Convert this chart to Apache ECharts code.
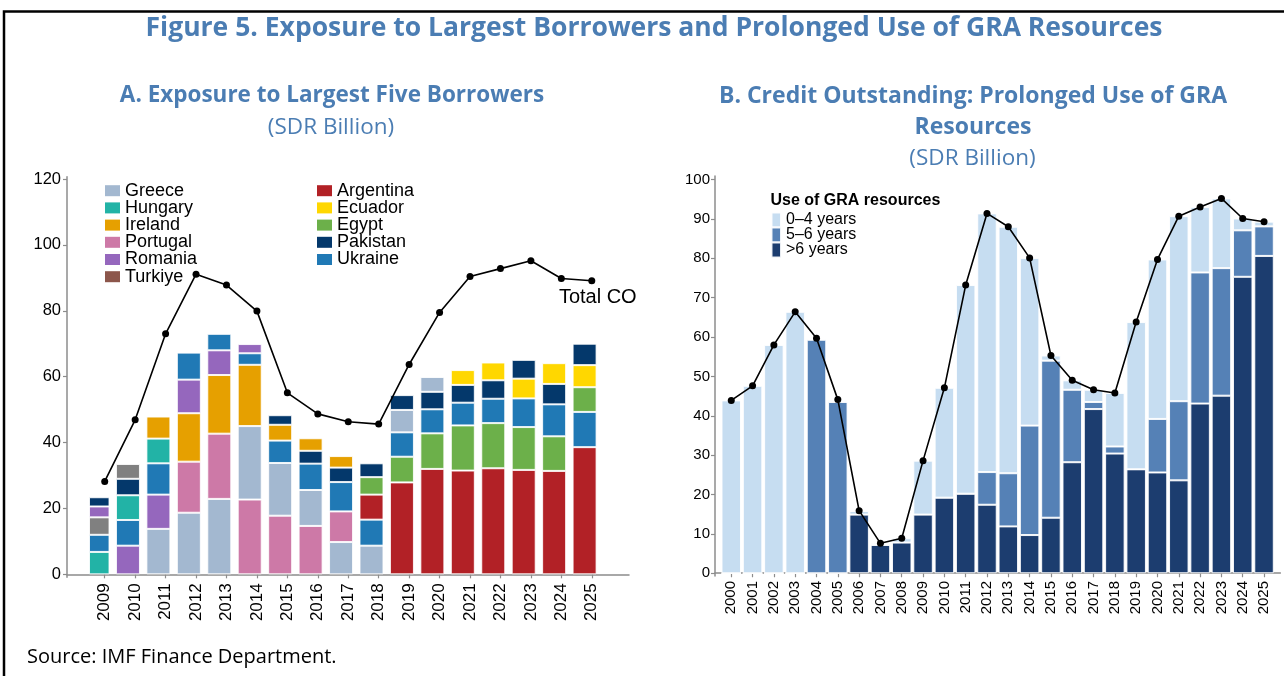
<!DOCTYPE html>
<html>
<head>
<meta charset="utf-8">
<script src="https://cdn.jsdelivr.net/npm/echarts@6/dist/echarts.min.js"></script>
<style>html,body{margin:0;padding:0;background:#fff;}#c{width:1284px;height:676px;}</style>
</head>
<body>
<div id="c"></div>
<script>
// ---------- Panel A data ----------
const yearsA = ['2009','2010','2011','2012','2013','2014','2015','2016','2017','2018','2019','2020','2021','2022','2023','2024','2025'];
// borrowers ranked by size within each year (rank 1 = largest, drawn at bottom)
const rank1Country = ['Hungary','Romania','Greece','Greece','Greece','Portugal','Portugal','Portugal','Greece','Greece','Argentina','Argentina','Argentina','Argentina','Argentina','Argentina','Argentina'];
const rank1Value   = [6.8, 8.7, 13.8, 18.7, 22.9, 22.7, 17.8, 14.7, 9.8, 8.7, 27.9, 32.0, 31.5, 32.2, 31.7, 31.4, 38.6];
const rank2Country = ['Ukraine','Ukraine','Romania','Portugal','Portugal','Greece','Greece','Greece','Portugal','Ukraine','Egypt','Egypt','Egypt','Egypt','Egypt','Egypt','Ukraine'];
const rank2Value   = [5.2, 7.8, 10.4, 15.5, 19.8, 22.3, 16.0, 10.9, 9.3, 7.9, 7.8, 10.8, 13.7, 13.7, 13.0, 10.5, 10.7];
const rank3Country = ['Turkiye','Hungary','Ukraine','Ireland','Ireland','Ireland','Ukraine','Ukraine','Ukraine','Argentina','Ukraine','Ukraine','Ukraine','Ukraine','Ukraine','Ukraine','Egypt'];
const rank3Value   = [5.3, 7.5, 9.5, 14.7, 17.8, 18.6, 6.8, 8.0, 8.9, 7.6, 7.4, 7.3, 6.9, 7.4, 8.7, 9.7, 7.5];
const rank4Country = ['Romania','Pakistan','Hungary','Romania','Romania','Ukraine','Ireland','Pakistan','Pakistan','Egypt','Greece','Pakistan','Pakistan','Pakistan','Ecuador','Pakistan','Ecuador'];
const rank4Value   = [3.3, 5.0, 7.5, 10.2, 7.5, 3.5, 4.8, 3.9, 4.4, 5.3, 6.8, 5.3, 5.4, 5.6, 6.0, 6.2, 6.7];
const rank5Country = ['Pakistan','Turkiye','Ireland','Ukraine','Ukraine','Romania','Pakistan','Ireland','Ireland','Pakistan','Pakistan','Greece','Ecuador','Ecuador','Pakistan','Ecuador','Pakistan'];
const rank5Value   = [2.8, 4.5, 6.7, 8.2, 5.0, 2.8, 2.9, 3.8, 3.5, 4.2, 4.5, 4.5, 4.5, 5.4, 5.7, 6.3, 6.5];
const totalCOA     = [28.2, 46.9, 73.0, 91.1, 87.8, 79.9, 55.1, 48.7, 46.3, 45.6, 63.7, 79.5, 90.4, 92.8, 95.2, 89.8, 89.1];
const legendColA1 = ['Greece','Hungary','Ireland','Portugal','Romania','Turkiye'];
const legendColA2 = ['Argentina','Ecuador','Egypt','Pakistan','Ukraine'];
const yTicksA = [0,20,40,60,80,100,120];

// ---------- Panel B data ----------
const yearsB = ['2000','2001','2002','2003','2004','2005','2006','2007','2008','2009','2010','2011','2012','2013','2014','2015','2016','2017','2018','2019','2020','2021','2022','2023','2024','2025'];
const over6   = [0,0,0,0,0,0,14.9,7.2,7.8,14.9,19.2,20.2,17.4,11.9,9.7,14.1,28.2,41.7,30.4,26.4,25.6,23.6,43.1,45.1,75.3,80.6];
const y5to6   = [0,0,0,0,59.3,43.5,0,0,0,0,0,0,8.3,13.5,27.8,39.9,18.4,1.8,1.8,0,13.6,20.1,33.3,32.4,11.8,7.5];
const y0to4   = [43.9,47.6,58.0,66.4,0.3,0.5,0.9,0.4,1.1,13.7,27.9,53.0,65.7,62.6,42.6,1.3,2.4,3.1,13.6,37.4,40.5,47.0,16.6,17.7,3.0,1.2];
const totalCOB = [43.9,47.6,58.0,66.4,59.7,44.1,15.9,7.6,8.9,28.6,47.1,73.2,91.4,88.0,80.1,55.3,49.0,46.6,45.8,63.8,79.7,90.7,93.0,95.2,90.1,89.3];
const seriesNamesB = ['0–4 years','5–6 years','>6 years'];
const yTicksB = [0,10,20,30,40,50,60,70,80,90,100];

// ---------- styles ----------
const barColor = {Greece:'#a3b8d0',Hungary:'#22b3a6',Ireland:'#e6a000',Portugal:'#cd79a7',Romania:'#9567bd',Turkiye:'#808080',
  Argentina:'#b22126',Ecuador:'#ffd700',Egypt:'#6cb04a',Pakistan:'#04386b',Ukraine:'#2079b5'};
const legendColor = Object.assign({}, barColor, {Turkiye:'#8c564b'});
const colB = {'0–4 years':'#c6ddf1','5–6 years':'#5581b6','>6 years':'#1c3d6f'};
const blue = '#4b7db3';
const axisGray = '#8c8c8c';
const F = 'Liberation Sans, Arial, sans-serif';
const TF = 'Open Sans, Noto Sans, sans-serif';

const chart = echarts.init(document.getElementById('c'), null, {renderer:'canvas'});

function rankSeries(countries, values, idx){
  return {
    type:'bar', name:'rank'+idx, stack:'A', xAxisIndex:1, yAxisIndex:1, barWidth:24,
    data: values.map((v,i)=>({value:v, itemStyle:{color: barColor[countries[i]]}})),
    itemStyle:{borderColor:'rgba(255,255,255,0.85)', borderWidth:1},
    emphasis:{disabled:true}, z:2
  };
}
const series = [
  rankSeries(rank1Country, rank1Value, 1),
  rankSeries(rank2Country, rank2Value, 2),
  rankSeries(rank3Country, rank3Value, 3),
  rankSeries(rank4Country, rank4Value, 4),
  rankSeries(rank5Country, rank5Value, 5)
];
legendColA1.concat(legendColA2).forEach(c=>{
  series.push({type:'bar', name:c, xAxisIndex:1, yAxisIndex:1, data:[], itemStyle:{color:legendColor[c]}});
});
series.push({
  type:'line', name:'Total CO', xAxisIndex:1, yAxisIndex:1, z:5,
  data: totalCOA.map((v,i)=>{
    const d = {value:v};
    if (i === totalCOA.length-1) d.label = {show:true, formatter:'Total CO', position:'bottom', distance:3, offset:[6,0], color:'#000', fontSize:20, fontFamily:F};
    return d;
  }),
  symbol:'circle', symbolSize:7, itemStyle:{color:'#000'}, lineStyle:{color:'#000', width:1.6},
  emphasis:{disabled:true}
});
const bDataMap = {'>6 years':over6, '5–6 years':y5to6, '0–4 years':y0to4};
['>6 years','5–6 years','0–4 years'].forEach(n=>{
  series.push({
    type:'bar', name:n, stack:'B', xAxisIndex:3, yAxisIndex:3, barWidth:19.5,
    data: bDataMap[n],
    itemStyle:{color:colB[n], borderColor:'rgba(255,255,255,0.9)', borderWidth:1},
    emphasis:{disabled:true}, z:2
  });
});
series.push({
  type:'line', name:'Total B', xAxisIndex:3, yAxisIndex:3, z:5,
  data: totalCOB,
  symbol:'circle', symbolSize:7, itemStyle:{color:'#000'}, lineStyle:{color:'#000', width:1.6},
  emphasis:{disabled:true}
});

const lineAx = {show:true, lineStyle:{color:axisGray, width:1.5}};
const tickSty = {color:axisGray, width:1.2};

const option = {
  animation:false,
  backgroundColor:'#fff',
  grid:[
    {left:67, right:655, top:176.7, bottom:98.7},
    {left:89.5, right:677, top:176.7, bottom:98.7},
    {left:715, right:3.6, top:176, bottom:100},
    {left:720.6, right:9.3, top:176, bottom:100}
  ],
  xAxis:[
    {type:'value', gridIndex:0, min:0, max:1, axisLine:lineAx, axisTick:{show:false}, axisLabel:{show:false}, splitLine:{show:false}},
    {type:'category', gridIndex:1, data:yearsA, boundaryGap:true, axisLine:{show:false},
     axisTick:{show:true, alignWithLabel:true, length:4, lineStyle:tickSty},
     axisLabel:{rotate:90, fontSize:17, color:'#000', fontFamily:F, margin:6, interval:0}, splitLine:{show:false}},
    {type:'value', gridIndex:2, min:0, max:1, axisLine:lineAx, axisTick:{show:false}, axisLabel:{show:false}, splitLine:{show:false}},
    {type:'category', gridIndex:3, data:yearsB, boundaryGap:true, axisLine:{show:false},
     axisTick:{show:true, alignWithLabel:true, length:4, lineStyle:tickSty},
     axisLabel:{rotate:90, fontSize:15, color:'#000', fontFamily:F, margin:5, interval:0}, splitLine:{show:false}}
  ],
  yAxis:[
    {type:'value', gridIndex:0, min:-0.9, max:120.7, axisLine:lineAx,
     axisTick:{show:true, length:4, customValues:yTicksA, lineStyle:tickSty},
     axisLabel:{customValues:yTicksA, fontSize:16.5, color:'#000', fontFamily:F, margin:6}, splitLine:{show:false}},
    {type:'value', gridIndex:1, min:-0.9, max:120.7, show:false, splitLine:{show:false}},
    {type:'value', gridIndex:2, min:-0.7, max:100.9, axisLine:lineAx,
     axisTick:{show:true, length:4, customValues:yTicksB, lineStyle:tickSty},
     axisLabel:{customValues:yTicksB, fontSize:15, color:'#000', fontFamily:F, margin:5}, splitLine:{show:false}},
    {type:'value', gridIndex:3, min:-0.7, max:100.9, show:false, splitLine:{show:false}}
  ],
  legend:[
    {orient:'vertical', left:105, top:181.7, padding:0, itemWidth:15, itemHeight:11, itemGap:-0.8, selectedMode:false,
     icon:'rect', data:legendColA1, textStyle:{fontSize:18, color:'#000', fontFamily:F}},
    {orient:'vertical', left:317, top:181.7, padding:0, itemWidth:15, itemHeight:11, itemGap:-0.8, selectedMode:false,
     icon:'rect', data:legendColA2, textStyle:{fontSize:18, color:'#000', fontFamily:F}},
    {orient:'vertical', left:770.5, top:211.5, padding:0, itemWidth:9.5, itemHeight:15, itemGap:-2, selectedMode:false,
     icon:'rect', data:seriesNamesB, textStyle:{fontSize:16, color:'#000', fontFamily:F}}
  ],
  graphic:[
    {type:'polyline', shape:{points:[[4,680],[4,11.5],[1290,11.5]]}, style:{stroke:'#000', lineWidth:2.5, fill:null}, silent:true},
    {type:'text', x:654, y:28, style:{text:'Figure 5. Exposure to Largest Borrowers and Prolonged Use of GRA Resources', fill:blue, font:'bold 26.5px '+TF, align:'center', verticalAlign:'middle'}},
    {type:'text', x:332, y:96, style:{text:'A. Exposure to Largest Five Borrowers', fill:blue, font:'bold 22.5px '+TF, align:'center', verticalAlign:'middle'}},
    {type:'text', x:331, y:128, style:{text:'(SDR Billion)', fill:blue, font:'22.5px '+TF, align:'center', verticalAlign:'middle'}},
    {type:'text', x:973, y:96, style:{text:'B. Credit Outstanding: Prolonged Use of GRA', fill:blue, font:'bold 23px '+TF, align:'center', verticalAlign:'middle'}},
    {type:'text', x:973, y:127, style:{text:'Resources', fill:blue, font:'bold 23px '+TF, align:'center', verticalAlign:'middle'}},
    {type:'text', x:972.5, y:159, style:{text:'(SDR Billion)', fill:blue, font:'22.5px '+TF, align:'center', verticalAlign:'middle'}},
    {type:'text', x:770.5, y:200.5, style:{text:'Use of GRA resources', fill:'#000', font:'bold 16px '+F, align:'left', verticalAlign:'middle'}},
    {type:'text', x:27, y:657, style:{text:'Source: IMF Finance Department.', fill:'#000', font:'20px '+TF, align:'left', verticalAlign:'middle'}}
  ],
  series: series
};
chart.setOption(option);
</script>
</body>
</html>
